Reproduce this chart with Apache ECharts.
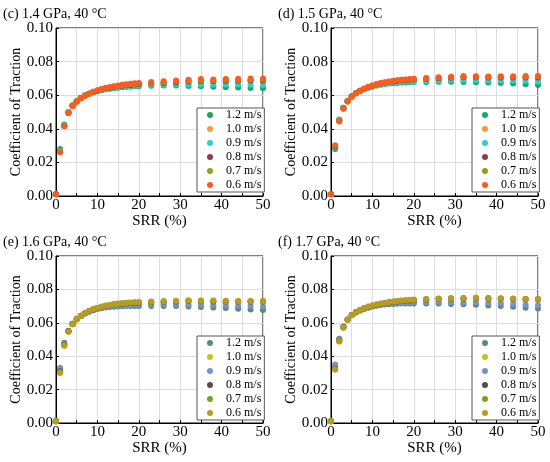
<!DOCTYPE html>
<html>
<head>
<meta charset="utf-8">
<script src="https://cdn.jsdelivr.net/npm/echarts@6/dist/echarts.min.js"></script>
<style>
  html, body { margin: 0; padding: 0; background: #fff; }
  #chart { width: 550px; height: 462px; }
</style>
</head>
<body>
<div id="chart"></div>
<script>
// SRR (%) sample points shared by every panel
const srr = [0, 1, 2, 3, 4, 5, 6, 7, 8, 9, 10, 11, 12, 13, 14, 15, 16, 17, 18, 19, 20,
  23, 26, 29, 32, 35, 38, 41, 44, 47, 50];

const speeds = ["1.2 m/s", "1.0 m/s", "0.9 m/s", "0.8 m/s", "0.7 m/s", "0.6 m/s"];
const panelTitles = ["(c) 1.4 GPa, 40 °C", "(d) 1.5 GPa, 40 °C", "(e) 1.6 GPa, 40 °C", "(f) 1.7 GPa, 40 °C"];

// (c) 1.4 GPa
const c12 = [0.001,0.028,0.0425,0.0500,0.0540,0.0565,0.0585,0.0598,0.0608,0.0617,0.0624,0.0630,0.0635,0.0639,0.0642,0.0645,0.0647,0.0649,0.0651,0.0653,0.0654,0.0656,0.0657,0.0657,0.0655,0.0653,0.0651,0.0648,0.0646,0.0643,0.0641];
const c10 = [0.001,0.027,0.0420,0.0497,0.0538,0.0564,0.0584,0.0598,0.0609,0.0618,0.0626,0.0633,0.0638,0.0643,0.0647,0.0650,0.0653,0.0655,0.0658,0.0660,0.0662,0.0666,0.0670,0.0673,0.0675,0.0677,0.0677,0.0679,0.0680,0.0681,0.0682];
const c09 = [0.001,0.027,0.0422,0.0498,0.0539,0.0564,0.0584,0.0598,0.0608,0.0617,0.0625,0.0631,0.0636,0.0640,0.0644,0.0647,0.0650,0.0652,0.0654,0.0656,0.0657,0.0660,0.0662,0.0663,0.0663,0.0664,0.0663,0.0663,0.0663,0.0662,0.0661];
const c08 = [0.001,0.0265,0.0418,0.0495,0.0537,0.0563,0.0583,0.0598,0.0609,0.0619,0.0627,0.0634,0.0640,0.0645,0.0649,0.0653,0.0656,0.0659,0.0661,0.0663,0.0665,0.0669,0.0673,0.0676,0.0680,0.0683,0.0683,0.0685,0.0686,0.0687,0.0688];
const c07 = [0.001,0.0265,0.0417,0.0494,0.0536,0.0562,0.0583,0.0598,0.0609,0.0620,0.0628,0.0636,0.0642,0.0647,0.0652,0.0656,0.0659,0.0662,0.0665,0.0667,0.0669,0.0673,0.0677,0.0681,0.0685,0.0688,0.0688,0.0690,0.0691,0.0692,0.0693];
const c06 = [0.001,0.026,0.0415,0.0492,0.0535,0.0561,0.0582,0.0597,0.0609,0.0620,0.0629,0.0637,0.0644,0.0649,0.0654,0.0658,0.0662,0.0665,0.0668,0.0671,0.0673,0.0678,0.0683,0.0687,0.0692,0.0696,0.0694,0.0696,0.0698,0.0699,0.0699];

// (d) 1.5 GPa
const d12 = [0.001,0.028,0.0455,0.0525,0.0566,0.0592,0.0611,0.0624,0.0635,0.0644,0.0651,0.0657,0.0662,0.0666,0.0669,0.0671,0.0673,0.0675,0.0676,0.0677,0.0678,0.0679,0.0680,0.0680,0.0679,0.0677,0.0675,0.0672,0.0669,0.0665,0.0661];
const d10 = [0.001,0.0295,0.0450,0.0523,0.0565,0.0592,0.0611,0.0625,0.0637,0.0647,0.0655,0.0661,0.0667,0.0672,0.0676,0.0679,0.0682,0.0684,0.0686,0.0688,0.0690,0.0694,0.0698,0.0700,0.0703,0.0703,0.0702,0.0702,0.0702,0.0701,0.0701];
const d09 = [0.001,0.029,0.0452,0.0524,0.0565,0.0592,0.0611,0.0625,0.0636,0.0645,0.0653,0.0659,0.0664,0.0668,0.0672,0.0675,0.0677,0.0679,0.0681,0.0682,0.0683,0.0686,0.0688,0.0689,0.0690,0.0689,0.0688,0.0687,0.0686,0.0684,0.0682];
const d08 = [0.001,0.0295,0.0448,0.0522,0.0564,0.0592,0.0611,0.0626,0.0638,0.0648,0.0656,0.0663,0.0669,0.0674,0.0678,0.0682,0.0685,0.0687,0.0689,0.0691,0.0693,0.0697,0.0701,0.0704,0.0707,0.0707,0.0706,0.0706,0.0706,0.0706,0.0706];
const d07 = [0.001,0.030,0.0446,0.0521,0.0563,0.0591,0.0611,0.0626,0.0638,0.0649,0.0657,0.0664,0.0670,0.0675,0.0680,0.0684,0.0687,0.0690,0.0692,0.0694,0.0696,0.0700,0.0704,0.0707,0.0710,0.0710,0.0709,0.0710,0.0710,0.0710,0.0711];
const d06 = [0.001,0.030,0.0444,0.0520,0.0562,0.0591,0.0611,0.0627,0.0639,0.0650,0.0658,0.0666,0.0672,0.0677,0.0682,0.0686,0.0689,0.0692,0.0694,0.0696,0.0698,0.0702,0.0707,0.0710,0.0714,0.0713,0.0712,0.0713,0.0713,0.0714,0.0715];

// (e) 1.6 GPa
const e12 = [0.001,0.033,0.0480,0.0552,0.0594,0.0622,0.0641,0.0655,0.0666,0.0675,0.0682,0.0687,0.0691,0.0694,0.0696,0.0698,0.0699,0.0700,0.0700,0.0701,0.0701,0.0701,0.0701,0.0700,0.0698,0.0695,0.0692,0.0688,0.0684,0.0680,0.0676];
const e10 = [0.001,0.031,0.0470,0.0550,0.0593,0.0622,0.0642,0.0657,0.0669,0.0679,0.0687,0.0693,0.0698,0.0703,0.0707,0.0710,0.0712,0.0714,0.0716,0.0717,0.0718,0.0721,0.0724,0.0726,0.0728,0.0727,0.0726,0.0725,0.0725,0.0725,0.0725];
const e09 = [0.001,0.0325,0.0475,0.0551,0.0594,0.0622,0.0641,0.0656,0.0667,0.0677,0.0684,0.0690,0.0694,0.0698,0.0701,0.0703,0.0705,0.0706,0.0707,0.0708,0.0708,0.0709,0.0710,0.0710,0.0709,0.0708,0.0706,0.0704,0.0702,0.0700,0.0698];
const e08 = [0.001,0.031,0.0468,0.0549,0.0593,0.0622,0.0642,0.0657,0.0669,0.0680,0.0688,0.0694,0.0700,0.0705,0.0709,0.0712,0.0714,0.0716,0.0718,0.0719,0.0720,0.0723,0.0726,0.0728,0.0730,0.0729,0.0728,0.0727,0.0727,0.0727,0.0727];
const e07 = [0.001,0.0305,0.0465,0.0548,0.0592,0.0621,0.0642,0.0658,0.0670,0.0681,0.0689,0.0696,0.0702,0.0707,0.0711,0.0714,0.0716,0.0718,0.0720,0.0721,0.0722,0.0725,0.0728,0.0730,0.0732,0.0731,0.0730,0.0729,0.0729,0.0729,0.0729];
const e06 = [0.001,0.030,0.0462,0.0547,0.0592,0.0621,0.0642,0.0658,0.0671,0.0682,0.0690,0.0697,0.0703,0.0708,0.0712,0.0715,0.0718,0.0720,0.0722,0.0723,0.0724,0.0727,0.0730,0.0732,0.0735,0.0734,0.0733,0.0732,0.0731,0.0731,0.0731];

// (f) 1.7 GPa
const f12 = [0.001,0.0345,0.0505,0.0578,0.0620,0.0646,0.0662,0.0673,0.0683,0.0690,0.0697,0.0702,0.0706,0.0709,0.0711,0.0713,0.0714,0.0715,0.0715,0.0716,0.0716,0.0716,0.0715,0.0713,0.0711,0.0708,0.0704,0.0700,0.0696,0.0690,0.0686];
const f10 = [0.001,0.033,0.0495,0.0574,0.0619,0.0646,0.0663,0.0675,0.0686,0.0694,0.0701,0.0707,0.0712,0.0716,0.0720,0.0723,0.0726,0.0728,0.0730,0.0731,0.0733,0.0737,0.0740,0.0741,0.0742,0.0744,0.0742,0.0741,0.0739,0.0738,0.0738];
const f09 = [0.001,0.035,0.0500,0.0576,0.0620,0.0646,0.0662,0.0674,0.0684,0.0692,0.0699,0.0704,0.0709,0.0712,0.0715,0.0717,0.0719,0.0720,0.0721,0.0722,0.0723,0.0724,0.0724,0.0723,0.0722,0.0721,0.0718,0.0715,0.0712,0.0708,0.0705];
const f08 = [0.001,0.0325,0.0493,0.0573,0.0618,0.0646,0.0663,0.0676,0.0687,0.0695,0.0702,0.0708,0.0713,0.0717,0.0721,0.0725,0.0728,0.0730,0.0732,0.0734,0.0735,0.0739,0.0742,0.0744,0.0745,0.0747,0.0745,0.0744,0.0742,0.0741,0.0740];
const f07 = [0.001,0.032,0.0490,0.0572,0.0618,0.0645,0.0663,0.0676,0.0687,0.0696,0.0703,0.0709,0.0714,0.0719,0.0723,0.0727,0.0730,0.0732,0.0734,0.0736,0.0737,0.0741,0.0744,0.0746,0.0747,0.0749,0.0747,0.0746,0.0744,0.0743,0.0742];
const f06 = [0.001,0.032,0.0488,0.0571,0.0617,0.0645,0.0663,0.0677,0.0688,0.0697,0.0704,0.0710,0.0715,0.0720,0.0724,0.0728,0.0731,0.0733,0.0736,0.0738,0.0740,0.0743,0.0746,0.0748,0.0749,0.0751,0.0749,0.0747,0.0745,0.0744,0.0743];

const panelData = [
  [c12, c10, c09, c08, c07, c06],
  [d12, d10, d09, d08, d07, d06],
  [e12, e10, e09, e08, e07, e06],
  [f12, f10, f09, f08, f07, f06],
];

const topColors = ["#1ba66c", "#f0a033", "#2ecfcf", "#8a3d4a", "#9a9a22", "#ff5a1e"];
const bottomColors = ["#5e8a72", "#c9c322", "#7593cf", "#5b4b42", "#79a223", "#b99b22"];

const font = "'Liberation Serif', 'Times New Roman', serif";
const boxes = [
  { left: 56, top: 28, height: 168 },
  { left: 331, top: 28, height: 168 },
  { left: 56, top: 256, height: 167 },
  { left: 331, top: 256, height: 167 },
];

const chart = echarts.init(document.getElementById("chart"));

const grid = [], xAxis = [], yAxis = [], legend = [], series = [], title = [];

boxes.forEach((b, p) => {
  const colors = p < 2 ? topColors : bottomColors;
  grid.push({
    left: b.left, top: b.top, width: 207, height: b.height,
    show: true, borderColor: "#000", borderWidth: 1, backgroundColor: "#fff",
  });
  title.push({
    text: panelTitles[p],
    left: b.left - 53, top: b.top - 21,
    padding: 0,
    textStyle: { fontFamily: font, fontSize: 14, fontWeight: "normal", color: "#000" },
  });
  xAxis.push({
    gridIndex: p, type: "value", min: 0, max: 50, interval: 5,
    name: "SRR (%)", nameLocation: "middle", nameGap: 18,
    nameTextStyle: { fontFamily: font, fontSize: 15, color: "#000" },
    axisLine: { lineStyle: { color: "#000", width: 1 } },
    axisTick: { inside: true, length: 3, lineStyle: { color: "#000" } },
    axisLabel: {
      fontFamily: font, fontSize: 15, color: "#000", margin: 2,
      formatter: (v) => (v % 10 === 0 ? String(v) : ""),
    },
    splitLine: { show: true, lineStyle: { color: "#dcdcdc", width: 1 } },
  });
  yAxis.push({
    gridIndex: p, type: "value", min: 0, max: 0.1, interval: 0.02,
    name: "Coefficient of Traction", nameLocation: "middle", nameGap: 30,
    nameTextStyle: { fontFamily: font, fontSize: 14, color: "#000" },
    axisLine: { lineStyle: { color: "#000", width: 1 } },
    axisTick: { inside: true, length: 3, lineStyle: { color: "#000" } },
    axisLabel: {
      fontFamily: font, fontSize: 15, color: "#000", margin: 3,
      formatter: (v) => v.toFixed(2),
    },
    splitLine: { show: true, lineStyle: { color: "#dcdcdc", width: 1 } },
  });
  const names = speeds.map((s) => p + "|" + s);
  legend.push({
    data: names,
    orient: "vertical",
    left: b.left + 141, top: b.top + 80,
    width: 66,
    backgroundColor: "#fff",
    borderColor: "#555", borderWidth: 1,
    padding: [0, 3, 0, 10],
    itemGap: 0,
    itemWidth: 6, itemHeight: 6,
    icon: "circle",
    formatter: (n) => n.split("|")[1],
    textStyle: { fontFamily: font, fontSize: 12, color: "#000", lineHeight: 14, padding: [0, 0, 0, 8] },
  });
  panelData[p].forEach((arr, k) => {
    series.push({
      name: names[k],
      type: "scatter",
      xAxisIndex: p, yAxisIndex: p,
      symbol: "circle", symbolSize: 6,
      itemStyle: { color: colors[k], opacity: 1 },
      data: srr.map((x, i) => [x, arr[i]]),
    });
  });
});

chart.setOption({
  animation: false,
  title,
  grid,
  xAxis,
  yAxis,
  legend,
  series,
});
</script>
</body>
</html>
